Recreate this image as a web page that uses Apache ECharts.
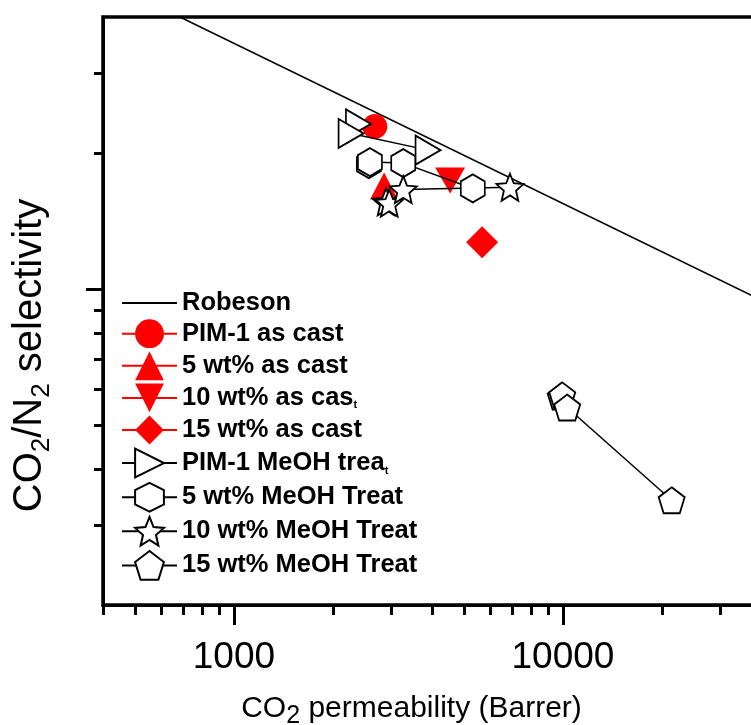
<!DOCTYPE html>
<html>
<head>
<meta charset="utf-8">
<script src="https://cdn.jsdelivr.net/npm/echarts@6/dist/echarts.min.js"></script>
<style>
  html, body { margin: 0; padding: 0; background: #fff; }
  #chart { width: 751px; height: 725px; }
</style>
</head>
<body>
<div id="chart"></div>
<script>
// axis ticks (log axes)
const xTickMajor = [1000, 10000, 100000]
const xTickMinor = [400, 500, 600, 700, 800, 900, 2000, 3000, 4000, 5000, 6000, 7000, 8000, 9000,
  20000, 30000, 40000, 50000, 60000, 70000, 80000, 90000]
const xLabelValues = [1000, 10000]
const yTickMajor = [10]
const yTickMinor = [3, 4, 5, 6, 7, 8, 9, 20, 30]

// data: [CO2 permeability (Barrer), CO2/N2 selectivity]
const robeson = [[685, 40], [40000, 9.46]]
const pim1Cast = [[2680, 22.9]]
const wt5Cast = [[2860, 16.9]]
const wt10Cast = [[4540, 17.4]]
const wt15Cast = [[5680, 12.7]]
const pim1MeOH = [[2390, 23.2], [2270, 22.1], [3890, 20.3]]
const wt5MeOH = [[2570, 18.9], [2590, 19.1], [3270, 19.0], [5320, 16.7]]
const wt10MeOH = [[2900, 15.6], [2965, 15.5], [3270, 16.6], [6900, 16.8]]
const wt15MeOH = [[9840, 5.78], [9950, 5.82], [10300, 5.47], [21400, 3.41]]

const FONT = '"Liberation Sans", Arial, sans-serif'
const RED = '#ff0000'
const HEXAGON = 'path://M0,-1L0.866,-0.5L0.866,0.5L0,1L-0.866,0.5L-0.866,-0.5Z'
const STAR = 'path://M0,-1L0.265,-0.364L0.951,-0.309L0.428,0.139L0.588,0.809L0,0.45L-0.588,0.809L-0.428,0.139L-0.951,-0.309L-0.265,-0.364Z'
const PENTAGON = 'path://M0,-1L0.951,-0.309L0.588,0.809L-0.588,0.809L-0.951,-0.309Z'

// legend names that end in a tiny "t" in the original figure
const smallT = ['10 wt% as cast', 'PIM-1 MeOH treat']

function filled(name, data, symbol, size, rotate) {
  return {
    name: name, type: 'line', data: data,
    symbol: symbol, symbolSize: size, symbolRotate: rotate || 0,
    lineStyle: { color: RED, width: 1.5 },
    itemStyle: { color: RED, borderWidth: 0 },
    emphasis: { disabled: true }, z: 3
  }
}

function open(name, data, symbol, size, rotate) {
  return {
    name: name, type: 'line', data: data,
    symbol: symbol, symbolSize: size, symbolRotate: rotate || 0,
    lineStyle: { color: '#000', width: 1.5 },
    itemStyle: { color: '#fff', borderColor: '#000', borderWidth: 1.8 },
    emphasis: { disabled: true }, z: 4
  }
}

const myChart = echarts.init(document.getElementById('chart'))

const option = {
  animation: false,
  backgroundColor: '#fff',
  grid: {
    left: 103, top: 17, right: -141, bottom: 120,
    containLabel: false, outerBoundsMode: 'none',
    show: true, borderColor: '#000', borderWidth: 3.5, backgroundColor: 'transparent'
  },
  legend: {
    orient: 'vertical', left: 121, top: 290,
    itemWidth: 55, itemHeight: 36, itemGap: 3.3,
    padding: 0,
    data: ['Robeson', 'PIM-1 as cast', '5 wt% as cast', '10 wt% as cast', '15 wt% as cast',
      'PIM-1 MeOH treat', '5 wt% MeOH Treat', '10 wt% MeOH Treat', '15 wt% MeOH Treat'],
    formatter: function (name) {
      return smallT.includes(name) ? name.slice(0, -1) + '{s|t}' : name
    },
    textStyle: {
      fontFamily: FONT, fontSize: 25.5, fontWeight: 'bold', color: '#000',
      rich: { s: { fontFamily: FONT, fontSize: 11, fontWeight: 'bold', color: '#000', verticalAlign: 'bottom', lineHeight: 14 } }
    }
  },
  xAxis: [{
    type: 'log', min: 400, max: 100000, position: 'bottom',
    name: 'CO{sub|2} permeability (Barrer)',
    nameLocation: 'middle', nameGap: 84,
    nameTextStyle: {
      fontFamily: FONT, fontSize: 30, color: '#000', padding: [0, 172, 0, 0],
      rich: { sub: { fontFamily: FONT, fontSize: 25, color: '#000', verticalAlign: 'bottom', lineHeight: 40 } }
    },
    axisLine: { show: true, lineStyle: { color: '#000', width: 3 } },
    axisTick: { show: true, customValues: xTickMajor, length: 20, lineStyle: { color: '#000', width: 3 } },
    axisLabel: {
      show: true, customValues: xLabelValues, margin: 34,
      fontFamily: FONT, fontSize: 37, color: '#000',
      formatter: function (v) { return String(v) }
    },
    splitLine: { show: false }
  }, {
    type: 'log', min: 400, max: 100000, position: 'bottom',
    axisLine: { show: false },
    axisTick: { show: true, customValues: xTickMinor, length: 10, lineStyle: { color: '#000', width: 3 } },
    axisLabel: { show: false },
    splitLine: { show: false }
  }],
  yAxis: [{
    type: 'log', min: 2, max: 40, position: 'left',
    name: 'CO{sub|2}/N{sub|2} selectivity',
    nameLocation: 'middle', nameGap: 48,
    nameTextStyle: {
      fontFamily: FONT, fontSize: 40, color: '#000', padding: [0, 89, 0, 0],
      rich: { sub: { fontFamily: FONT, fontSize: 26, color: '#000', verticalAlign: 'bottom', lineHeight: 50 } }
    },
    axisLine: { show: true, lineStyle: { color: '#000', width: 3 } },
    axisTick: { show: true, customValues: yTickMajor, length: 17, lineStyle: { color: '#000', width: 3 } },
    axisLabel: { show: false },
    splitLine: { show: false }
  }, {
    type: 'log', min: 2, max: 40, position: 'left', offset: 0,
    axisLine: { show: false },
    axisTick: { show: true, customValues: yTickMinor, length: 9, lineStyle: { color: '#000', width: 3 } },
    axisLabel: { show: false },
    splitLine: { show: false }
  }],
  series: [
    {
      name: 'Robeson', type: 'line', data: robeson,
      symbol: 'line', showSymbol: false,
      lineStyle: { color: '#000', width: 1.5 },
      itemStyle: { color: '#000' },
      emphasis: { disabled: true }, z: 2
    },
    filled('PIM-1 as cast', pim1Cast, 'circle', 25),
    filled('5 wt% as cast', wt5Cast, 'triangle', [28, 27]),
    filled('10 wt% as cast', wt10Cast, 'triangle', [30, 26], 180),
    filled('15 wt% as cast', wt15Cast, 'diamond', [32, 32]),
    open('PIM-1 MeOH treat', pim1MeOH, 'triangle', [29, 25], -90),
    open('5 wt% MeOH Treat', wt5MeOH, HEXAGON, [24, 28]),
    open('10 wt% MeOH Treat', wt10MeOH, STAR, 27),
    open('15 wt% MeOH Treat', wt15MeOH, PENTAGON, 26)
  ]
}

myChart.setOption(option)
</script>
</body>
</html>
